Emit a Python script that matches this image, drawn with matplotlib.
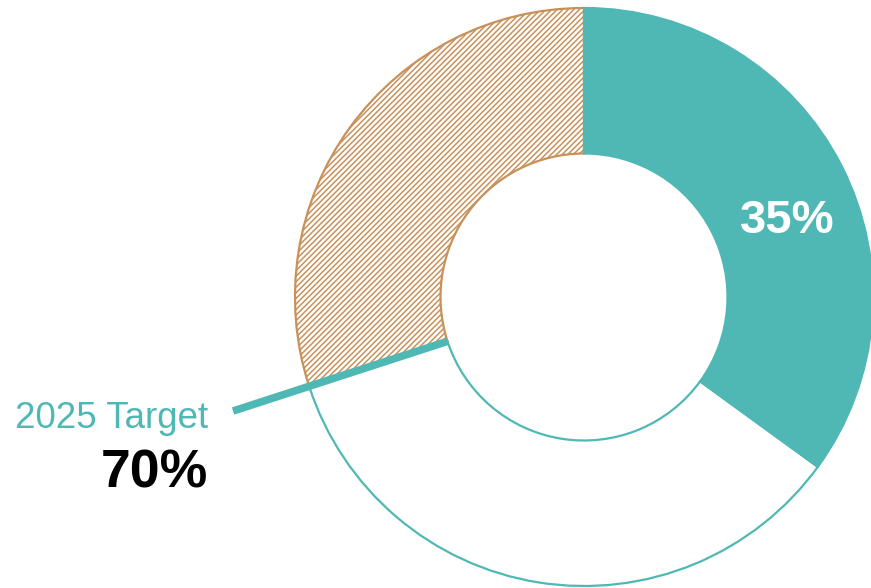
import numpy as np
import matplotlib
matplotlib.use("Agg")
import matplotlib.pyplot as plt

# progress ring: achieved, remaining to target, beyond target
shares = [35, 35, 30]
achieved = 35
target = 70
target_label = "2025 Target"

teal = "#4FB8B5"
brown = "#C8915A"

plt.rcParams["font.family"] = ["Liberation Sans", "DejaVu Sans"]
plt.rcParams["hatch.linewidth"] = 1.1

fig = plt.figure(figsize=(8.71, 5.88), dpi=100)
ax = fig.add_axes([0, 0, 1, 1])

cx, cy = 584, 291
r_out, r_in = 289, 143.5

wedges, _ = ax.pie(shares, startangle=90, counterclock=False,
                   radius=r_out, center=(cx, cy), frame=True,
                   colors=[teal, "white", "white"],
                   wedgeprops=dict(width=r_out - r_in, linewidth=1.6))
wedges[0].set_edgecolor(teal)
wedges[1].set_edgecolor(teal)
wedges[2].set_edgecolor(brown)
wedges[2].set_hatch("//////")
wedges[1].set_zorder(1)
wedges[2].set_zorder(2)
wedges[0].set_zorder(3)

ax.set_xlim(0, 871)
ax.set_ylim(0, 588)
ax.set_aspect("equal")
ax.axis("off")

# target marker running out from the inner edge of the ring
theta = np.deg2rad(90 - 360 * target / 100)
rr = np.array([r_in, 369])
ax.plot(cx + rr * np.cos(theta), cy + rr * np.sin(theta),
        color=teal, lw=5.5, solid_capstyle="butt", zorder=5)

ax.text(787, 367, f"{achieved}%", color="white", fontsize=34,
        fontweight="bold", ha="center", va="center", zorder=6)
ax.text(208, 170, target_label, color=teal, fontsize=26.5,
        ha="right", va="center")
ax.text(208, 115, f"{target}%", color="black", fontsize=38.5,
        fontweight="bold", ha="right", va="center")

fig.savefig("out.png", dpi=100)
